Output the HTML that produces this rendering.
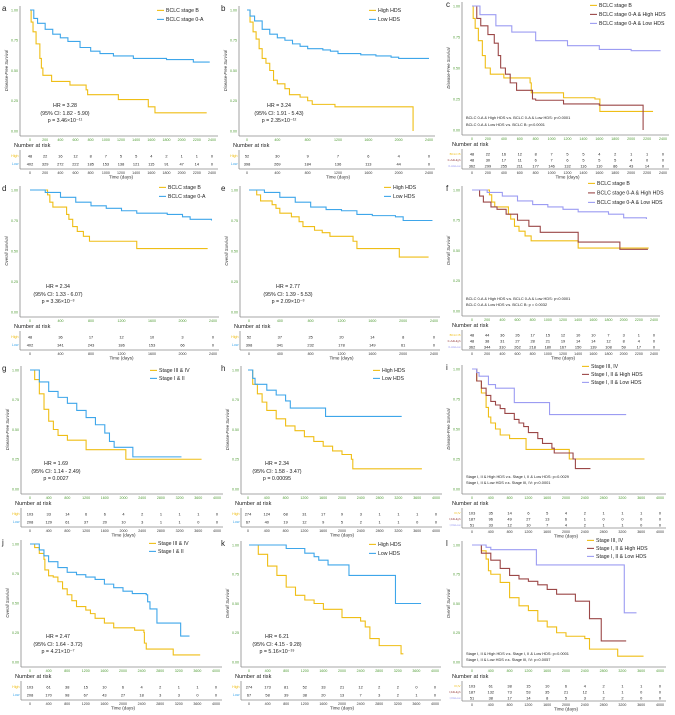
<!DOCTYPE html>
<html><head><meta charset="utf-8"><style>
html,body{margin:0;padding:0;background:#fff;}
svg{display:block;font-family:"Liberation Sans",sans-serif;}
</style></head><body>
<svg id="fig" width="675" height="715" viewBox="0 0 675 715"></svg>
<script>
// ---------- data (time in days, survival probability) ----------
const aStageB=[[0,1],[15,.9],[40,.82],[80,.72],[130,.6],[150,.52],[170,.46],[285,.41],[527,.38],[740,.34],[760,.30],[1165,.26],[1560,.2],[1648,.15],[2330,.15]];
const aStage0A=[[0,1],[50,.93],[100,.89],[200,.84],[300,.8],[400,.77],[500,.74],[660,.69],[800,.66],[923,.64],[1100,.62],[1363,.6],[1800,.59],[2154,.57],[2370,.57]];
const aRiskB=[48,22,16,12,8,7,5,5,4,2,1,1,0];
const aRisk0A=[402,329,272,222,185,153,138,121,115,91,47,14,0];

const bHigh=[[0,1],[40,.9],[80,.82],[120,.76],[160,.68],[200,.6],[250,.56],[300,.5],[350,.42],[400,.39],[500,.35],[560,.3],[700,.28],[800,.25],[860,.22],[1150,.22],[1160,.2],[2190,.2],[2190,0]];
const bLow=[[0,1],[40,.95],[100,.91],[200,.84],[300,.8],[400,.77],[500,.75],[600,.72],[700,.7],[800,.68],[1000,.67],[1100,.66],[1200,.64],[1500,.63],[1700,.62],[1900,.61],[2000,.6],[2400,.6]];
const bRiskHigh=[52,30,9,7,6,4,0];
const bRiskLow=[398,269,184,136,113,44,0];

const cStageB=[[0,1],[15,.9],[40,.82],[80,.72],[130,.6],[167,.5],[230,.45],[400,.42],[730,.38],[745,.30],[1150,.26],[1545,.25],[1607,.15],[2275,.15]];
const cHigh=[[0,1],[60,.9],[110,.84],[200,.77],[280,.7],[330,.6],[360,.5],[420,.45],[480,.38],[560,.32],[760,.25],[800,.24],[1150,.21],[1600,.2],[2150,.2],[2150,0]];
const cLow=[[0,1],[100,.93],[300,.84],[500,.79],[800,.72],[1200,.68],[1600,.65],[2000,.64],[2370,.64]];
const cRiskB=[48,22,16,12,8,7,5,5,4,2,1,1,0];
const cRiskHigh=[48,30,17,11,6,7,6,5,5,5,4,0,0];
const cRiskLow=[362,299,255,211,177,146,132,116,110,86,43,14,0];

const dStageB=[[0,1],[230,.96],[260,.9],[300,.86],[480,.8],[510,.76],[560,.7],[620,.66],[700,.62],[780,.58],[1400,.52],[2330,.52]];
const dStage0A=[[0,1],[200,.98],[400,.94],[600,.9],[800,.87],[1000,.85],[1200,.83],[1400,.81],[1800,.80],[2000,.78],[2100,.76],[2380,.75]];
const dRiskB=[48,36,17,12,10,3,0];
const dRisk0A=[402,341,243,186,153,66,0];

const eHigh=[[0,1],[100,.96],[150,.91],[300,.88],[350,.85],[400,.81],[550,.78],[650,.74],[700,.7],[850,.67],[950,.65],[1050,.62],[1300,.62],[1350,.58],[1400,.52],[1950,.52],[1950,.45],[2330,.45]];
const eLow=[[0,1],[200,.98],[400,.94],[600,.9],[800,.86],[1000,.84],[1200,.83],[1400,.8],[1600,.79],[1900,.78],[2000,.75],[2380,.75]];
const eRiskHigh=[52,37,25,20,14,8,0];
const eRiskLow=[398,341,232,178,149,61,0];

const fStageB=[[0,1],[230,.96],[260,.9],[300,.86],[480,.8],[510,.76],[560,.7],[620,.66],[700,.62],[780,.58],[1400,.52],[2330,.52]];
const fHigh=[[0,1],[100,.95],[150,.9],[250,.86],[330,.84],[450,.8],[600,.75],[750,.7],[900,.65],[1400,.6],[1400,.57],[1950,.57],[1950,.51],[2320,.51]];
const fLow=[[0,1],[200,.98],[400,.95],[600,.91],[800,.88],[1000,.86],[1200,.84],[1400,.82],[1800,.8],[2000,.77],[2300,.76]];
const fRiskB=[48,44,36,26,17,15,12,10,10,7,3,1,0];
const fRiskHigh=[48,38,31,27,28,21,19,14,14,12,8,4,0];
const fRiskLow=[362,344,310,262,218,180,167,150,139,108,59,17,0];

const gStage34=[[0,1],[100,.92],[200,.8],[300,.67],[400,.57],[500,.5],[600,.45],[800,.41],[1200,.38],[1200,.33],[2050,.33],[2050,.25],[3670,.25]];
const gStage12=[[0,1],[200,.9],[400,.82],[600,.77],[800,.72],[1000,.66],[1200,.6],[1400,.54],[1600,.47],[1700,.4],[1800,.35],[2150,.35],[2200,.27],[3240,.27]];
const gRisk34=[103,33,14,6,6,4,2,1,1,1,0];
const gRisk12=[208,129,61,37,20,10,3,1,1,0,0];

const hHigh=[[0,1],[100,.88],[200,.8],[300,.73],[400,.66],[600,.59],[800,.53],[1000,.49],[1200,.44],[1400,.40],[1600,.36],[1800,.32],[2000,.29],[2200,.25],[2230,.17],[3700,.17]];
const hLow=[[0,1],[100,.93],[150,.88],[400,.83],[600,.79],[800,.74],[900,.68],[1650,.68],[1650,.61],[3270,.61]];
const hRiskHigh=[274,124,68,31,17,9,3,1,1,1,0];
const hRiskLow=[67,40,19,12,9,5,2,1,1,0,0];

const iStage34=[[0,1],[100,.9],[200,.8],[300,.68],[350,.6],[400,.55],[500,.5],[600,.45],[800,.42],[1150,.39],[1150,.33],[2070,.33],[2070,.25],[3670,.25]];
const iHigh=[[0,1],[100,.9],[200,.84],[300,.78],[400,.73],[500,.7],[600,.67],[700,.63],[900,.58],[1000,.55],[1100,.52],[1200,.47],[1400,.42],[1500,.38],[1700,.34],[1750,.3],[2150,.3],[2150,.25],[2200,.17],[2520,.17]];
const iLow=[[0,1],[100,.97],[150,.94],[350,.87],[500,.84],[900,.72],[1650,.72],[1650,.62],[3280,.62]];
const iRisk34=[103,35,14,6,5,4,2,1,1,1,0];
const iRiskHigh=[187,96,49,27,13,6,1,0,0,0,0];
const iRiskLow=[51,33,12,10,7,4,2,1,1,0,0];

const jStage34=[[0,1],[100,.97],[200,.92],[300,.87],[320,.78],[400,.73],[500,.72],[600,.68],[700,.62],[800,.57],[900,.52],[1000,.47],[1200,.44],[1300,.41],[1400,.37],[1600,.33],[1800,.29],[2250,.27],[2450,.25],[2460,.16],[2500,.11],[3080,.11],[3080,.06],[3660,.06]];
const jStage12=[[0,1],[200,.95],[300,.9],[400,.85],[600,.8],[800,.76],[1000,.74],[1200,.72],[1400,.7],[1600,.66],[1800,.63],[2000,.6],[2200,.58],[2500,.57],[2530,.51],[2580,.45],[2730,.45],[2730,.33],[3240,.33],[3240,.22],[3430,.22]];
const jRisk34=[103,61,38,15,10,6,4,2,1,1,0];
const jRisk12=[208,170,98,67,43,27,18,3,3,0,0];

const kHigh=[[0,1],[200,.92],[400,.82],[600,.74],[800,.64],[1000,.57],[1200,.53],[1400,.5],[1600,.45],[2000,.38],[2400,.35],[2500,.3],[2600,.2],[2800,.14],[3270,.14],[3270,.07],[3320,.07]];
const kLow=[[0,1],[800,.97],[1200,.93],[1400,.9],[1500,.87],[1700,.83],[2100,.83],[2150,.74],[3150,.74],[3150,.5],[3700,.5]];
const kRiskHigh=[274,173,81,52,33,21,12,2,2,0,0];
const kRiskLow=[67,58,39,38,20,13,7,3,2,1,0];

const lStage34=[[0,1],[200,.95],[300,.88],[350,.78],[400,.75],[600,.68],[800,.55],[1000,.48],[1200,.44],[1400,.35],[1600,.3],[1800,.25],[2000,.22],[2400,.2],[2500,.11],[3100,.11],[3100,.05],[3650,.05]];
const lHigh=[[0,1],[200,.93],[400,.87],[600,.8],[800,.74],[1000,.71],[1200,.69],[1400,.66],[1600,.62],[1800,.58],[2200,.52],[2500,.5],[2500,.37],[2750,.37],[2750,.18],[3280,.18]];
const lLow=[[0,1],[300,.98],[400,.96],[1370,.96],[1370,.83],[3240,.83],[3240,.42],[3500,.42]];
const lRisk34=[103,61,38,15,10,6,4,2,1,1,0];
const lRiskHigh=[187,132,73,53,35,21,12,1,1,0,0];
const lRiskLow=[51,38,17,14,8,5,3,2,2,0,0];

const yTickLabels=["0.00","0.25","0.50","0.75","1.00"];
const yTickValues=[0,0.25,0.5,0.75,1];

// ---------- style ----------
const YEL="#EFBE16", BLU="#3EA6EA", BRN="#9B4747", LAV="#9C9CF2", GRN="#4E9A33", AX="#8a8a8a";
const DFS="Disease-Free Survival", OS="Overall Survival";

const panels=[
 {id:'a',ox:0,oy:0,yax:20,x0:30,x1:212,y1:10,y0:131,tmax:2400,step:200,yt:DFS,leg:[166,12,9],hr:['HR = 3.28','(95% CI: 1.82 - 5.90)','p = 3.46×10⁻¹¹'],hx:65,
  s:[['BCLC stage B',YEL,aStageB,aRiskB,'High'],['BCLC stage 0-A',BLU,aStage0A,aRisk0A,'Low']]},
 {id:'b',ox:225,oy:0,yax:14,x0:22,x1:204,y1:10,y0:131,tmax:2400,step:400,yt:DFS,leg:[153,12,9],hr:['HR = 3.24','(95% CI: 1.91 - 5.43)','p = 2.35×10⁻¹²'],hx:54,
  s:[['High HDS',YEL,bHigh,bRiskHigh,'High'],['Low HDS',BLU,bLow,bRiskLow,'Low']]},
 {id:'c',ox:450,oy:0,yax:12,x0:22,x1:213,y1:6,y0:130,tmax:2400,step:200,yt:DFS,leg:[149,7,9],
  notes:['BCLC 0-A & High HDS v.s. BCLC 0-A & Low HDS: p<0.0001','BCLC 0-A & Low HDS v.s. BCLC B: p<0.0001'],ny:[-11,-4],
  s:[['BCLC stage B',YEL,cStageB,cRiskB,'BCLC B'],['BCLC stage 0-A & High HDS',BRN,cHigh,cRiskHigh,'0-A&High'],['BCLC stage 0-A & Low HDS',LAV,cLow,cRiskLow,'0-A&Low']]},
 {id:'d',ox:0,oy:178,yax:20,x0:30,x1:213,y1:12,y0:134,tmax:2400,step:400,yt:OS,leg:[168,11,9],hr:['HR = 2.34','(95% CI: 1.33 - 6.07)','p = 3.36×10⁻³'],hx:58,
  s:[['BCLC stage B',YEL,dStageB,dRiskB,'High'],['BCLC stage 0-A',BLU,dStage0A,dRisk0A,'Low']]},
 {id:'e',ox:225,oy:178,yax:15,x0:24,x1:209,y1:12,y0:134,tmax:2400,step:400,yt:OS,leg:[168,11,9],hr:['HR = 2.77','(95% CI: 1.39 - 5.53)','p = 2.09×10⁻³'],hx:63,
  s:[['High HDS',YEL,eHigh,eRiskHigh,'High'],['Low HDS',BLU,eLow,eRiskLow,'Low']]},
 {id:'f',ox:450,oy:178,yax:12,x0:22,x1:204,y1:12,y0:133,tmax:2400,step:200,yt:OS,leg:[147,7,9.5],
  notes:['BCLC 0-A & High HDS v.s. BCLC 0-A & Low HDS: p<0.0001','BCLC 0-A & Low HDS v.s. BCLC B: p = 0.0032'],ny:[-11,-5],
  s:[['BCLC stage B',YEL,fStageB,fRiskB,'BCLC B'],['BCLC stage 0-A & High HDS',BRN,fHigh,fRiskHigh,'0-A&High'],['BCLC stage 0-A & Low HDS',LAV,fLow,fRiskLow,'0-A&Low']]},
 {id:'g',ox:0,oy:355,yax:21,x0:30,x1:217,y1:15,y0:134,tmax:4000,step:400,yt:DFS,leg:[159,17,8],hr:['HR = 1.69','(95% CI: 1.14 - 2.49)','p = 0.0027'],hx:56,
  s:[['Stage III & IV',YEL,gStage34,gRisk34,'High'],['Stage I & II',BLU,gStage12,gRisk12,'Low']]},
 {id:'h',ox:225,oy:355,yax:16,x0:23,x1:211,y1:15,y0:134,tmax:4000,step:400,yt:DFS,leg:[157,17,8],hr:['HR = 2.34','(95% CI: 1.58 - 3.47)','p = 0.00095'],hx:52,
  s:[['High HDS',YEL,hHigh,hRiskHigh,'High'],['Low HDS',BLU,hLow,hRiskLow,'Low']]},
 {id:'i',ox:450,oy:355,yax:12,x0:22,x1:210,y1:14,y0:134,tmax:4000,step:400,yt:DFS,leg:[141,13,8],
  notes:['Stage I, II & High HDS v.s. Stage I, II & Low HDS: p=0.0029','Stage I, II & Low HDS v.s. Stage III, IV: p<0.0001'],ny:[-11,-5],
  s:[['Stage III, IV',YEL,iStage34,iRisk34,'III,IV'],['Stage I, II & High HDS',BRN,iHigh,iRiskHigh,'I,II&High'],['Stage I, II & Low HDS',LAV,iLow,iRiskLow,'I,II&Low']]},
 {id:'j',ox:0,oy:535,yax:21,x0:30,x1:216,y1:9,y0:127,tmax:4000,step:400,yt:OS,leg:[158,10,8],hr:['HR = 2.47','(95% CI: 1.64 - 3.72)','p = 4.21×10⁻⁷'],hx:58,
  s:[['Stage III & IV',YEL,jStage34,jRisk34,'High'],['Stage I & II',BLU,jStage12,jRisk12,'Low']]},
 {id:'k',ox:225,oy:535,yax:16,x0:24,x1:210,y1:10,y0:127,tmax:4000,step:400,yt:OS,leg:[153,11,9],hr:['HR = 6.21','(95% CI: 4.15 - 9.28)','p = 5.16×10⁻¹⁹'],hx:52,
  s:[['High HDS',YEL,kHigh,kRiskHigh,'High'],['Low HDS',BLU,kLow,kRiskLow,'Low']]},
 {id:'l',ox:450,oy:535,yax:12,x0:22,x1:210,y1:10,y0:127,tmax:4000,step:400,yt:OS,leg:[146,7,8],
  notes:['Stage I, II & High HDS v.s. Stage I, II & Low HDS: p=0.0001','Stage I, II & Low HDS v.s. Stage III, IV: p=0.0057'],ny:[-7,-1],
  s:[['Stage III, IV',YEL,lStage34,lRisk34,'III,IV'],['Stage I, II & High HDS',BRN,lHigh,lRiskHigh,'I,II&High'],['Stage I, II & Low HDS',LAV,lLow,lRiskLow,'I,II&Low']]}
];

const NS="http://www.w3.org/2000/svg";
const fig=document.getElementById('fig');
function mk(tag,attrs,parent,text){const e=document.createElementNS(NS,tag);for(const k in attrs)e.setAttribute(k,attrs[k]);if(text!==undefined)e.textContent=text;parent.appendChild(e);return e;}

panels.forEach(p=>{
  const g=mk('g',{transform:`translate(${p.ox},${p.oy})`},fig);
  
  
  const X=t=>p.x0+(p.x1-p.x0)*t/p.tmax;
  const Y=s=>p.y0-(p.y0-p.y1)*s;
  const ticks=[];for(let t=0;t<=p.tmax;t+=p.step)ticks.push(t);
  const three=p.s.length===3;

  const lt=mk('text',{x:p.id==='a'||p.id==='d'||p.id==='g'||p.id==='j'?2:-4,y:p.y1+1,'font-size':8,fill:'#222'},g,p.id);
  
  

  const ya=mk('line',{x1:p.yax,y1:p.y1-4,x2:p.yax,y2:p.y0+5,stroke:AX,'stroke-width':0.8},g);
  
  
  const xa=mk('line',{x1:p.yax,y1:p.y0+5,x2:p.x1+6,y2:p.y0+5,stroke:AX,'stroke-width':0.8},g);
  
  
  yTickValues.forEach((v,i)=>{
    const tl=mk('text',{x:p.yax-2,y:Y(v)+1.3,'font-size':3.6,fill:GRN,'text-anchor':'end'},g,yTickLabels[i]);
    
    
  });
  ticks.forEach(t=>{
    const tl=mk('text',{x:X(t),y:p.y0+10,'font-size':3.6,fill:GRN,'text-anchor':'middle'},g,String(t));
    
    
  });
  const yt=mk('text',{transform:`translate(${p.yax-12},${(p.y0+p.y1)/2}) rotate(-90)`,'font-size':4.2,'font-style':'italic',fill:'#333','text-anchor':'middle'},g,p.yt);
  
  

  p.s.forEach((ser,si)=>{
    const pts=ser[2];
    let d=`M${X(pts[0][0]).toFixed(2)},${Y(pts[0][1]).toFixed(2)}`;
    for(let i=1;i<pts.length;i++)d+=`H${X(pts[i][0]).toFixed(2)}V${Y(pts[i][1]).toFixed(2)}`;
    const path=mk('path',{d:d,fill:'none',stroke:ser[1],'stroke-width':1.1},g);
    
    
    const ly=p.leg[1]+si*p.leg[2];
    const ll=mk('line',{x1:p.leg[0]-9,y1:ly-1.6,x2:p.leg[0]-2,y2:ly-1.6,stroke:ser[1],'stroke-width':1.1},g);
    
    
    const lx=mk('text',{x:p.leg[0],y:ly,'font-size':5.2,fill:'#222'},g,ser[0]);
    
    
  });

  if(p.hr){p.hr.forEach((h,i)=>{
    const ht=mk('text',{x:p.hx,y:p.y0+[-24,-16,-9][i],'font-size':5.3,fill:'#222','text-anchor':'middle'},g,h);
    
    
  });}
  if(p.notes){p.notes.forEach((n,i)=>{
    const nt=mk('text',{x:p.yax+4,y:p.y0+p.ny[i],'font-size':3.9,fill:'#222'},g,n);
    
    
  });}

  const nar=mk('text',{x:p.yax-(three?10:6),y:p.y0+16,'font-size':5.6,fill:'#222'},g,'Number at risk');
  
  
  const rowY=three?[24,30,36]:[25,33];
  const bot=p.y0+(three?39:38);
  const tv=mk('line',{x1:p.yax,y1:p.y0+19,x2:p.yax,y2:bot,stroke:AX,'stroke-width':0.8},g);
  
  
  const th=mk('line',{x1:p.yax,y1:bot,x2:p.x1+6,y2:bot,stroke:AX,'stroke-width':0.8},g);
  
  
  p.s.forEach((ser,si)=>{
    const yy=p.y0+rowY[si];
    const rl=mk('text',{x:p.yax-1.5,y:yy+1.2,'font-size':three?3:3.6,fill:ser[1],'text-anchor':'end'},g,ser[4]);
    
    
    ser[3].forEach((n,ci)=>{
      const rn=mk('text',{x:X(ticks[ci]),y:yy+1.3,'font-size':3.9,fill:'#222','text-anchor':'middle'},g,String(n));
      
      
    });
  });
  ticks.forEach(t=>{
    const tl=mk('text',{x:X(t),y:bot+5,'font-size':3.6,fill:'#333','text-anchor':'middle'},g,String(t));
    
    
  });
  const tt=mk('text',{x:(p.x0+p.x1)/2,y:bot+9.5,'font-size':4.6,fill:'#333','text-anchor':'middle'},g,'Time (days)');
  
  
});
</script>
</body></html>
